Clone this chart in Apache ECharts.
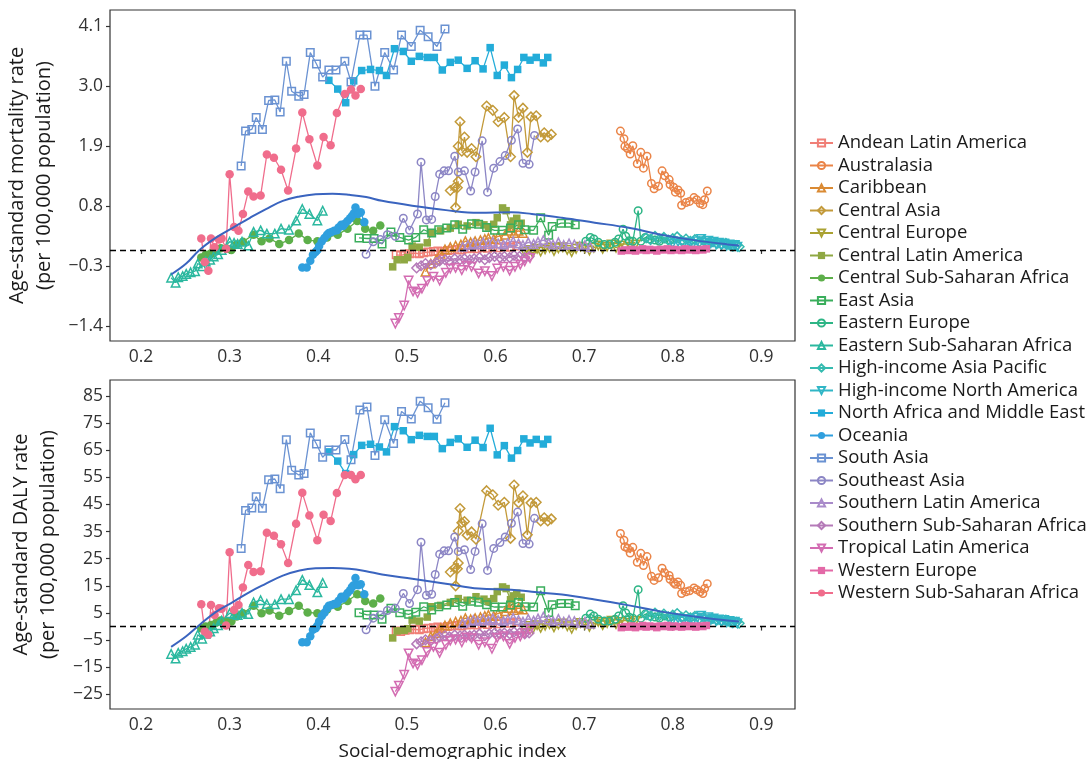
<!DOCTYPE html>
<html lang="en">
<head>
<meta charset="UTF-8">
<title>SDI vs age-standard rates</title>
<style>
    html, body { margin: 0; padding: 0; background: #fff; }
    #chart { width: 1090px; height: 759px; }
</style>
<script src="https://cdn.jsdelivr.net/npm/echarts@6/dist/echarts.min.js"></script>
</head>
<body>
<div id="chart"></div>
<script>
// ---- data ----
const regions = [
    'Andean Latin America', 'Australasia', 'Caribbean', 'Central Asia', 'Central Europe',
    'Central Latin America', 'Central Sub-Saharan Africa', 'East Asia', 'Eastern Europe',
    'Eastern Sub-Saharan Africa', 'High-income Asia Pacific', 'High-income North America',
    'North Africa and Middle East', 'Oceania', 'South Asia', 'Southeast Asia',
    'Southern Latin America', 'Southern Sub-Saharan Africa', 'Tropical Latin America',
    'Western Europe', 'Western Sub-Saharan Africa'
];

// social-demographic index, one row per region (same order as regions)
const sdiByRegion = [
    [0.488,0.493,0.498,0.503,0.509,0.514,0.519,0.524,0.530,0.535,0.540,0.546,0.551,0.557,0.562,0.568,0.573,0.579,0.585,0.591,0.597,0.603,0.610,0.617,0.624],
    [0.741,0.745,0.746,0.749,0.752,0.755,0.760,0.764,0.767,0.771,0.776,0.779,0.784,0.788,0.791,0.796,0.797,0.801,0.803,0.806,0.809,0.810,0.815,0.819,0.824,0.827,0.831,0.834,0.836,0.839],
    [0.521,0.527,0.533,0.538,0.543,0.549,0.555,0.561,0.566,0.572,0.577,0.583,0.588,0.592,0.598,0.603,0.611,0.615,0.618,0.621,0.626,0.631],
    [0.549,0.554,0.557,0.558,0.555,0.558,0.560,0.562,0.565,0.568,0.573,0.578,0.590,0.597,0.603,0.610,0.617,0.621,0.626,0.631,0.636,0.640,0.646,0.651,0.655,0.659,0.663],
    [0.633,0.638,0.642,0.647,0.651,0.656,0.661,0.666,0.671,0.676,0.681,0.686,0.691,0.696,0.701,0.706,0.711,0.716,0.721,0.726,0.731,0.736,0.741,0.746,0.752,0.758],
    [0.484,0.489,0.497,0.501,0.506,0.514,0.523,0.528,0.538,0.549,0.558,0.568,0.578,0.587,0.592,0.598,0.602,0.608,0.612,0.617,0.620,0.624,0.629],
    [0.268,0.273,0.279,0.285,0.290,0.297,0.302,0.308,0.315,0.327,0.336,0.345,0.356,0.367,0.378,0.388,0.399,0.410,0.422,0.433,0.444,0.453,0.462,0.470],
    [0.446,0.455,0.463,0.472,0.482,0.492,0.502,0.510,0.519,0.528,0.536,0.545,0.554,0.563,0.573,0.581,0.590,0.599,0.608,0.617,0.626,0.633,0.643,0.651,0.660,0.664,0.674,0.683,0.690],
    [0.702,0.707,0.711,0.716,0.723,0.729,0.735,0.739,0.744,0.747,0.751,0.755,0.761,0.764,0.769,0.774,0.780,0.785,0.791,0.797],
    [0.234,0.239,0.242,0.247,0.251,0.256,0.261,0.264,0.269,0.273,0.278,0.282,0.287,0.291,0.300,0.305,0.309,0.314,0.321,0.327,0.335,0.342,0.351,0.358,0.367,0.375,0.382,0.390,0.399,0.405],
    [0.770,0.775,0.780,0.785,0.790,0.795,0.800,0.805,0.810,0.815,0.820,0.825,0.830,0.835,0.840,0.845,0.850,0.855,0.860,0.864,0.868,0.872,0.875],
    [0.800,0.806,0.812,0.818,0.823,0.828,0.832,0.836,0.840,0.843,0.846,0.849,0.852,0.855,0.858,0.861,0.864,0.867,0.870,0.873],
    [0.412,0.422,0.431,0.440,0.449,0.459,0.469,0.477,0.486,0.496,0.505,0.514,0.523,0.531,0.540,0.549,0.558,0.568,0.577,0.586,0.594,0.602,0.610,0.618,0.625,0.632,0.639,0.646,0.654,0.659],
    [0.382,0.387,0.391,0.394,0.397,0.399,0.401,0.404,0.407,0.410,0.412,0.415,0.418,0.421,0.423,0.426,0.428,0.430,0.433,0.436,0.438,0.440,0.442,0.445,0.448,0.452],
    [0.313,0.318,0.325,0.330,0.337,0.344,0.351,0.357,0.364,0.370,0.378,0.384,0.391,0.398,0.405,0.412,0.420,0.430,0.437,0.447,0.455,0.464,0.475,0.485,0.494,0.505,0.515,0.524,0.534,0.543],
    [0.454,0.462,0.470,0.478,0.487,0.496,0.503,0.512,0.516,0.522,0.528,0.532,0.537,0.542,0.547,0.554,0.558,0.565,0.572,0.577,0.585,0.591,0.598,0.605,0.611,0.618,0.625,0.631,0.638,0.644],
    [0.563,0.569,0.575,0.580,0.586,0.592,0.597,0.603,0.609,0.614,0.620,0.626,0.631,0.637,0.643,0.648,0.654,0.660,0.665,0.671,0.677,0.683,0.689,0.695,0.701,0.707],
    [0.511,0.516,0.521,0.527,0.533,0.537,0.543,0.548,0.554,0.560,0.565,0.571,0.576,0.582,0.588,0.593,0.599,0.605,0.610,0.616,0.621,0.627,0.633,0.638],
    [0.487,0.491,0.497,0.502,0.507,0.512,0.517,0.523,0.530,0.537,0.544,0.549,0.555,0.562,0.567,0.573,0.581,0.588,0.596,0.602,0.609,0.616,0.622,0.628,0.633,0.639],
    [0.742,0.746,0.750,0.754,0.758,0.762,0.766,0.770,0.774,0.778,0.782,0.786,0.790,0.794,0.798,0.802,0.806,0.810,0.814,0.818,0.822,0.826,0.830,0.834,0.838],
    [0.268,0.272,0.276,0.279,0.283,0.288,0.291,0.296,0.300,0.305,0.310,0.315,0.321,0.327,0.335,0.342,0.350,0.358,0.366,0.375,0.382,0.390,0.399,0.406,0.414,0.421,0.430,0.437,0.442,0.448]
];

// age-standard mortality rate (per 100,000), top panel
const mortByRegion = [
    [-0.09,-0.10,-0.08,-0.07,-0.06,-0.07,-0.05,-0.04,-0.03,-0.02,-0.03,-0.01,0.00,0.01,0.00,0.02,0.03,0.02,0.04,0.03,0.05,0.04,0.06,0.05,0.07],
    [2.18,2.04,1.90,1.86,1.76,1.91,1.58,1.79,1.50,1.72,1.22,1.12,1.17,1.45,1.36,1.29,1.20,1.15,1.06,1.10,1.04,0.82,0.87,0.89,0.96,0.92,0.85,0.83,0.92,1.08],
    [-0.40,-0.25,-0.18,-0.07,0.01,0.05,0.08,0.10,0.16,0.14,0.16,0.18,0.20,0.22,0.20,0.25,0.28,0.35,0.41,0.31,0.35,0.31],
    [1.09,1.15,1.14,1.26,0.78,1.90,2.35,1.81,2.07,1.79,1.86,1.71,2.64,2.56,2.35,2.43,1.71,2.83,2.43,2.60,1.79,2.44,2.46,2.07,2.15,2.07,2.12],
    [-0.04,0.00,-0.06,0.02,-0.03,0.01,0.04,-0.02,0.03,0.05,0.00,-0.04,0.02,0.06,0.03,-0.01,0.04,0.08,0.02,0.06,0.10,0.04,0.08,0.03,0.06,0.10],
    [-0.31,-0.18,-0.18,-0.14,0.07,0.05,0.13,0.31,0.35,0.40,0.47,0.44,0.50,0.46,0.42,0.47,0.59,0.77,0.72,0.46,0.53,0.58,0.49],
    [-0.14,-0.09,-0.06,0.00,0.03,0.02,0.00,0.10,0.15,0.28,0.16,0.21,0.11,0.18,0.30,0.18,0.16,0.23,0.28,0.39,0.53,0.39,0.35,0.45],
    [0.22,0.21,0.21,0.11,0.33,0.23,0.18,0.23,0.37,0.31,0.37,0.40,0.46,0.38,0.48,0.47,0.41,0.36,0.36,0.40,0.46,0.37,0.36,0.59,0.27,0.43,0.49,0.49,0.46],
    [0.16,0.23,0.20,0.14,0.10,0.10,0.14,0.20,0.38,0.25,0.17,0.16,0.72,0.16,0.23,0.20,0.18,0.16,0.20,0.18],
    [-0.51,-0.60,-0.50,-0.48,-0.44,-0.41,-0.39,-0.25,-0.30,-0.21,-0.18,-0.12,-0.08,0.00,0.15,0.13,0.11,0.15,0.08,0.33,0.36,0.30,0.30,0.39,0.37,0.54,0.75,0.66,0.54,0.72],
    [0.22,0.19,0.25,0.20,0.23,0.18,0.21,0.24,0.17,0.20,0.16,0.19,0.15,0.17,0.13,0.15,0.12,0.10,0.12,0.09,0.07,0.08,0.06],
    [0.12,0.15,0.10,0.14,0.11,0.16,0.20,0.13,0.17,0.12,0.15,0.10,0.13,0.09,0.12,0.08,0.10,0.07,0.09,0.06],
    [3.11,2.95,2.70,3.10,3.29,3.31,3.29,3.20,3.69,3.64,3.46,3.55,3.53,3.53,3.30,3.44,3.48,3.33,3.47,3.32,3.71,3.20,3.39,3.16,3.31,3.53,3.48,3.53,3.43,3.53],
    [-0.32,-0.32,-0.20,-0.09,-0.04,0.00,0.07,0.16,0.22,0.28,0.31,0.33,0.35,0.36,0.41,0.46,0.44,0.48,0.53,0.58,0.62,0.67,0.78,0.66,0.69,0.51],
    [1.54,2.18,2.21,2.43,2.21,2.74,2.75,2.53,3.46,2.91,2.82,2.85,3.62,3.41,3.17,3.30,3.30,3.46,3.08,3.94,3.94,3.00,3.62,3.30,3.94,3.73,4.03,3.91,3.73,4.05],
    [-0.08,0.15,0.19,0.28,0.25,0.58,0.36,0.66,1.61,0.55,0.56,0.98,1.39,1.45,1.45,1.72,1.43,1.45,1.08,1.43,2.00,1.06,1.50,1.62,1.73,2.01,2.22,1.59,1.57,2.10],
    [0.06,0.09,0.12,0.10,0.14,0.11,0.15,0.12,0.10,0.13,0.16,0.12,0.09,0.14,0.11,0.15,0.18,0.13,0.10,0.14,0.09,0.12,0.10,0.07,0.09,0.05],
    [-0.33,-0.29,-0.25,-0.27,-0.23,-0.20,-0.18,-0.20,-0.16,-0.18,-0.16,-0.18,-0.16,-0.14,-0.18,-0.14,-0.12,-0.14,-0.12,-0.14,-0.10,-0.12,-0.14,-0.12],
    [-1.35,-1.25,-1.02,-0.56,-0.76,-0.79,-0.71,-0.57,-0.49,-0.56,-0.42,-0.34,-0.33,-0.37,-0.29,-0.31,-0.43,-0.39,-0.48,-0.34,-0.31,-0.38,-0.31,-0.27,-0.21,-0.15],
    [-0.02,0.00,-0.01,0.01,-0.02,0.00,0.02,-0.01,0.01,0.00,-0.02,0.01,0.00,0.02,-0.01,0.01,0.00,-0.01,0.02,0.00,0.01,-0.01,0.01,0.00,0.02],
    [0.21,-0.22,-0.38,0.21,0.05,0.19,0.21,0.02,1.39,0.42,0.35,0.66,1.07,0.98,1.00,1.75,1.69,1.47,1.09,1.86,2.52,2.03,1.55,2.07,1.92,2.51,2.86,2.94,2.83,2.95]
];

// age-standard DALY rate (per 100,000), bottom panel
const dalyByRegion = [
    [-1.6,-1.8,-1.4,-1.2,-1.0,-1.2,-0.8,-0.6,-0.4,-0.2,-0.4,0.0,0.2,0.4,0.2,0.6,0.8,0.6,1.0,0.8,1.2,1.0,1.4,1.2,1.6],
    [34.3,31.8,29.4,28.9,27.1,29.2,23.7,27.0,22.5,25.8,18.5,17.0,18.0,21.5,19.8,18.8,17.4,16.2,15.6,16.4,15.2,12.2,12.8,13.2,14.2,13.6,12.8,12.2,14.0,15.8],
    [-5.8,-3.6,-2.4,-0.6,0.4,1.2,1.8,2.2,3.1,2.7,3.1,3.5,3.9,4.3,3.9,4.9,5.6,6.8,8.1,6.1,6.8,6.3],
    [20.1,21.6,21.3,23.4,15.0,35.2,43.5,38.3,38.7,33.7,34.9,32.2,50.1,48.6,44.7,45.8,32.5,52.2,45.6,48.2,33.8,45.6,45.8,38.9,40.1,38.9,39.7],
    [-0.8,0.2,-1.0,0.5,-0.5,0.3,0.9,-0.3,0.7,1.1,0.1,-0.8,0.5,1.3,0.7,-0.1,0.9,1.7,0.5,1.3,2.1,0.9,1.7,0.7,1.3,2.0],
    [-4.2,-1.6,-1.4,-0.8,2.4,2.0,3.5,7.3,7.8,8.9,10.3,9.7,11.0,10.1,9.2,10.3,12.9,14.6,14.0,9.9,11.3,12.3,10.8],
    [-0.6,0.0,0.6,1.5,2.2,1.9,1.9,3.7,4.9,7.7,4.9,5.9,4.0,5.7,7.7,5.2,4.9,6.3,7.3,9.4,11.9,9.4,8.5,10.3],
    [5.1,4.3,4.3,2.7,6.7,5.1,4.5,5.3,7.3,6.1,7.3,7.9,8.9,7.5,9.3,9.0,8.0,7.2,7.2,7.9,8.9,7.3,7.2,13.2,5.2,8.0,8.5,8.5,7.7],
    [3.1,4.6,3.9,2.7,2.0,2.0,2.7,3.9,7.7,5.0,3.4,3.1,13.6,3.1,4.6,3.9,3.5,3.1,3.9,3.5],
    [-10.1,-11.8,-9.7,-9.1,-8.2,-7.5,-6.7,-3.0,-4.5,-2.7,-1.8,-0.6,0.5,2.2,4.9,4.6,4.3,5.1,4.6,8.9,9.7,8.3,8.2,10.1,10.1,13.4,17.2,15.3,12.6,16.1],
    [4.4,3.8,5.0,4.0,4.6,3.6,4.2,4.8,3.4,4.0,3.2,3.8,3.0,3.4,2.6,3.0,2.4,2.0,2.4,1.8,1.4,1.6,1.2],
    [2.4,3.0,2.0,2.8,2.2,3.2,4.0,2.6,3.4,2.4,3.0,2.0,2.6,1.8,2.4,1.6,2.0,1.4,1.8,1.2],
    [64.4,61.0,56.4,63.4,66.8,67.2,66.2,64.4,73.7,72.2,68.9,70.5,70.1,70.1,65.6,67.9,69.2,66.1,68.7,66.0,73.1,63.3,66.7,62.1,64.9,69.2,67.7,69.0,67.3,69.0],
    [-5.8,-5.8,-3.6,-1.2,-0.6,0.3,1.9,3.9,5.1,6.7,7.7,7.9,8.3,8.5,9.5,11.0,10.3,11.2,12.4,13.4,14.6,15.2,17.9,15.2,15.6,11.9],
    [28.8,42.8,43.7,47.9,43.6,54.1,54.4,50.8,68.9,57.6,55.9,56.4,71.4,67.3,62.4,65.1,65.1,69.0,61.5,79.8,80.9,63.1,76.2,67.5,79.3,76.5,83.1,80.7,76.4,82.5],
    [-1.2,3.1,4.3,5.9,6.7,12.2,8.5,13.6,31.1,11.5,11.9,19.2,26.7,27.9,27.9,33.0,27.7,28.3,21.0,27.7,37.9,20.7,28.8,31.0,33.0,38.1,42.2,30.6,30.4,39.9],
    [1.2,1.8,2.4,2.0,2.8,2.2,3.0,2.4,2.0,2.6,3.2,2.4,1.8,2.8,2.2,3.0,3.6,2.6,2.0,2.8,1.8,2.4,2.0,1.4,1.8,1.0],
    [-6.4,-5.6,-4.9,-5.2,-4.5,-3.8,-3.4,-3.8,-3.1,-3.4,-3.1,-3.4,-3.1,-2.7,-3.4,-2.7,-2.4,-2.7,-2.4,-2.7,-2.0,-2.4,-2.7,-2.4],
    [-24.0,-21.8,-17.8,-9.9,-13.6,-14.2,-12.4,-9.4,-7.5,-9.7,-6.7,-5.2,-4.8,-5.8,-4.0,-4.3,-6.7,-5.8,-8.2,-4.2,-3.6,-6.4,-4.2,-3.6,-2.4,-1.2],
    [-0.4,0.0,-0.2,0.2,-0.4,0.0,0.4,-0.2,0.2,0.0,-0.4,0.2,0.0,0.4,-0.2,0.2,0.0,-0.2,0.4,0.0,0.2,-0.2,0.2,0.0,0.4],
    [8.2,-1.8,-3.0,7.9,4.3,6.7,6.6,0.4,27.4,6.1,7.9,14.4,22.7,20.1,20.4,34.6,33.5,30.3,23.4,37.9,49.3,40.9,31.8,41.2,38.9,49.2,55.9,55.9,54.3,55.9]
];

// expected values (smoothed curve)
const expSdi  = [0.234,0.251,0.266,0.285,0.304,0.323,0.341,0.360,0.379,0.397,0.416,0.435,0.454,0.472,0.506,0.544,0.581,0.618,0.641,0.675,0.712,0.749,0.787,0.824,0.862,0.875];
const expMort = [-0.45,-0.25,0.00,0.23,0.41,0.59,0.75,0.90,0.98,1.02,1.03,1.01,0.97,0.90,0.81,0.73,0.68,0.69,0.66,0.59,0.50,0.41,0.28,0.18,0.10,0.08];
const expDaly = [-7.5,-3.6,0.6,5.5,9.1,12.8,15.8,18.8,20.7,21.5,21.6,21.3,20.4,19.2,17.6,15.8,14.0,13.6,12.8,11.8,10.0,7.9,5.5,3.7,2.2,1.9];

const sdiTicks  = [0.2, 0.3, 0.4, 0.5, 0.6, 0.7, 0.8, 0.9];
const mortTicks = [-1.4, -0.3, 0.8, 1.9, 3.0, 4.1];
const dalyTicks = [-25, -15, -5, 5, 15, 25, 35, 45, 55, 65, 75, 85];

// ---- styling ----
// region colours, as sampled from the figure's legend
var regionColors = [
    '#f07e76', '#ea8447', '#da8a33', '#c39a3a', '#aaa232', '#8fa843', '#5daf4a',
    '#3aae5c', '#2db585', '#2bb89f', '#35bbb0', '#30b6c6', '#23acd9', '#2f9fde',
    '#6a92d2', '#8c86c5', '#a98bca', '#b57ab8', '#d36cb2', '#e369a7', '#f06d8c'
];

// ggplot shape cycle: open square, open circle, open triangle, open diamond, open down-triangle, filled square, filled circle
var shapeCycle = [
    { symbol: 'rect', open: true, size: 7.5, rot: 0 },
    { symbol: 'circle', open: true, size: 7.5, rot: 0 },
    { symbol: 'triangle', open: true, size: 8.5, rot: 0 },
    { symbol: 'diamond', open: true, size: 9.5, rot: 0 },
    { symbol: 'triangle', open: true, size: 8.5, rot: 180 },
    { symbol: 'rect', open: false, size: 7.5, rot: 0 },
    { symbol: 'circle', open: false, size: 8.5, rot: 0 }
];

var FONT = 'Open Sans';
var minus = function (s) { return s.replace('-', '\u2212'); };

function regionSeries(i, g, values) {
    var s = shapeCycle[i % 7];
    var col = regionColors[i];
    return {
        name: regions[i],
        type: 'line',
        xAxisIndex: g,
        yAxisIndex: g,
        data: sdiByRegion[i].map(function (x, k) { return [x, values[i][k]]; }),
        symbol: s.symbol,
        symbolSize: s.size,
        symbolRotate: s.rot,
        showAllSymbol: true,
        color: col,
        lineStyle: { color: col, width: 1.3 },
        itemStyle: s.open ? { color: 'rgba(255,255,255,0)', borderColor: col, borderWidth: 1.5 }
                          : { color: col, borderWidth: 0 },
        emphasis: { disabled: true },
        z: 2
    };
}

function expectedSeries(g, values) {
    return {
        name: 'Expected',
        type: 'line',
        xAxisIndex: g,
        yAxisIndex: g,
        data: expSdi.map(function (x, k) { return [x, values[k]]; }),
        smooth: 0.4,
        symbol: 'none',
        lineStyle: { color: '#3a64bf', width: 2 },
        emphasis: { disabled: true },
        markLine: {
            silent: true,
            symbol: 'none',
            label: { show: false },
            lineStyle: { color: '#000', type: [6, 4], width: 1.3 },
            data: [{ yAxis: 0 }]
        },
        z: 3
    };
}

function xAxisFor(g) {
    return {
        gridIndex: g,
        type: 'value',
        min: 0.165,
        max: 0.938,
        name: g === 1 ? 'Social-demographic index' : '',
        nameLocation: 'middle',
        nameGap: 33,
        nameTextStyle: { fontFamily: FONT, fontSize: 19, color: '#1a1a1a' },
        axisLine: { show: false },
        splitLine: { show: false },
        axisTick: { show: true, customValues: sdiTicks, length: 4, lineStyle: { color: '#333', width: 1.2 } },
        axisLabel: {
            customValues: sdiTicks,
            formatter: function (v) { return v.toFixed(1); },
            fontFamily: FONT, fontSize: 17.5, color: '#333', margin: 7
        }
    };
}

function yAxisFor(g, ticks, min, max, title, digits) {
    return {
        gridIndex: g,
        type: 'value',
        min: min,
        max: max,
        name: title,
        nameLocation: 'middle',
        nameRotate: 90,
        nameGap: 48,
        nameTextStyle: { fontFamily: FONT, fontSize: 20, color: '#1a1a1a', lineHeight: 27 },
        axisLine: { show: false },
        splitLine: { show: false },
        axisTick: { show: true, customValues: ticks, length: 4, lineStyle: { color: '#333', width: 1.2 } },
        axisLabel: {
            customValues: ticks,
            formatter: function (v) { return minus(v.toFixed(digits)); },
            fontFamily: FONT, fontSize: 17.5, color: '#333', margin: 7
        }
    };
}

var series = [];
regions.forEach(function (r, i) { series.push(regionSeries(i, 0, mortByRegion)); });
regions.forEach(function (r, i) { series.push(regionSeries(i, 1, dalyByRegion)); });
series.push(expectedSeries(0, expMort));
series.push(expectedSeries(1, expDaly));

var gridBase = { left: 110, width: 685, show: true, borderColor: '#333', borderWidth: 1.2,
                 backgroundColor: 'transparent', containLabel: false, outerBoundsMode: 'none' };

var chart = echarts.init(document.getElementById('chart'), null, { renderer: 'canvas' });
chart.setOption({
    animation: false,
    backgroundColor: '#fff',
    grid: [
        Object.assign({}, gridBase, { top: 10, height: 331 }),
        Object.assign({}, gridBase, { top: 380, height: 329 })
    ],
    xAxis: [xAxisFor(0), xAxisFor(1)],
    yAxis: [
        yAxisFor(0, mortTicks, -1.67, 4.40, 'Age-standard mortality rate\n(per 100,000 population)', 1),
        yAxisFor(1, dalyTicks, -30.4, 90.9, 'Age-standard DALY rate\n(per 100,000 population)', 0)
    ],
    legend: {
        data: regions,
        orient: 'vertical',
        left: 809,
        top: 133,
        padding: 0,
        itemWidth: 23,
        itemHeight: 9,
        itemGap: 2.5,
        textStyle: { fontFamily: FONT, fontSize: 18.5, color: '#1a1a1a', lineHeight: 20 },
        selectedMode: false
    },
    series: series
});

window.addEventListener('resize', function () { chart.resize(); });
</script>
</body>
</html>
